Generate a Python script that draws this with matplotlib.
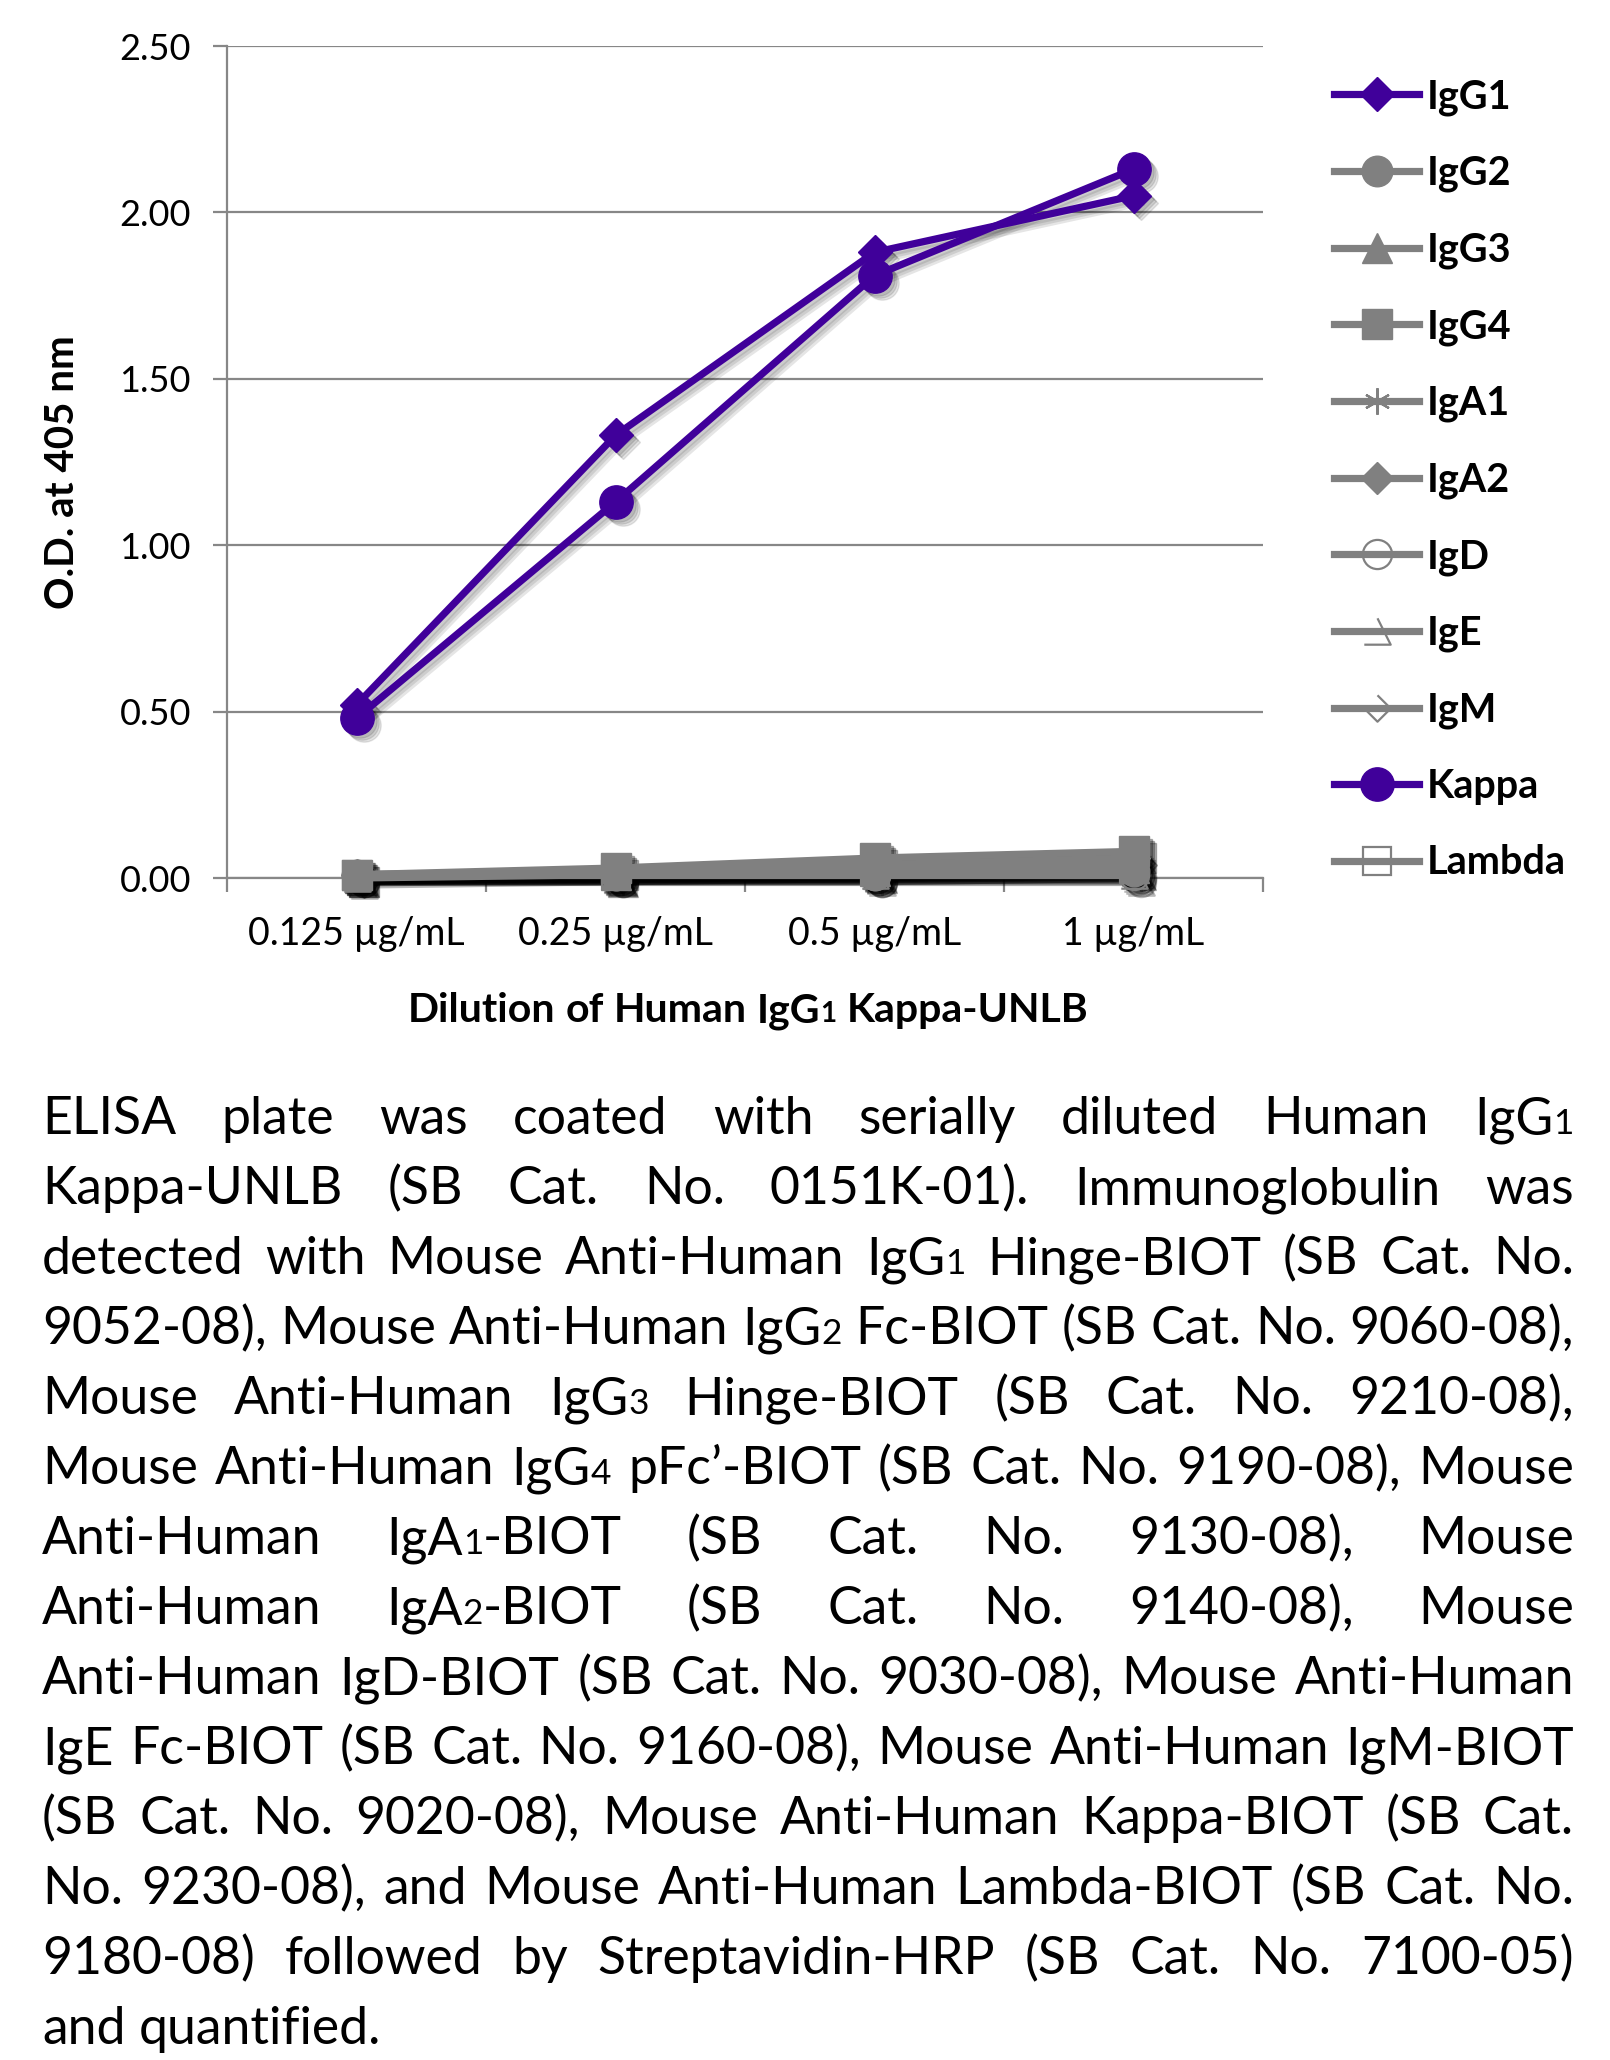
"""
ELISA isotype check - Human IgG1 Kappa-UNLB dilution series.
Line chart with soft drop shadows plus justified caption underneath.
"""

import numpy as np
import matplotlib
matplotlib.use('Agg')
import matplotlib.pyplot as plt
from matplotlib import transforms
from matplotlib.path import Path

plt.rcParams['font.family'] = ['Lato', 'DejaVu Sans']

# ---- data ---------------------------------------------------------------
concentrations = ['0.125 µg/mL', '0.25 µg/mL', '0.5 µg/mL', '1 µg/mL']
y_ticks = [0.0, 0.5, 1.0, 1.5, 2.0, 2.5]

series_names = ['IgG1', 'IgG2', 'IgG3', 'IgG4', 'IgA1', 'IgA2',
                'IgD', 'IgE', 'IgM', 'Kappa', 'Lambda']

igg1 = [0.52, 1.33, 1.88, 2.05]
igg2 = [0.01, 0.01, 0.01, 0.02]
igg3 = [0.01, 0.01, 0.02, 0.03]
igg4 = [0.01, 0.03, 0.06, 0.08]
iga1 = [0.01, 0.01, 0.01, 0.02]
iga2 = [0.01, 0.02, 0.04, 0.06]
igd = [0.01, 0.01, 0.01, 0.01]
ige = [0.00, 0.01, 0.01, 0.01]
igm = [0.01, 0.02, 0.03, 0.05]
kappa = [0.48, 1.13, 1.81, 2.13]
lambda_ = [0.01, 0.01, 0.02, 0.03]

series_values = [igg1, igg2, igg3, igg4, iga1, iga2,
                 igd, ige, igm, kappa, lambda_]

x_label = 'Dilution of Human IgG_1 Kappa-UNLB'   # '_' -> small digit
y_label = 'O.D. at 405 nm'

caption = [
    "ELISA plate was coated with serially diluted Human IgG_1",
    "Kappa-UNLB (SB Cat. No. 0151K-01).  Immunoglobulin was",
    "detected with Mouse Anti-Human IgG_1 Hinge-BIOT (SB Cat. No.",
    "9052-08), Mouse Anti-Human IgG_2 Fc-BIOT (SB Cat. No. 9060-08),",
    "Mouse Anti-Human IgG_3 Hinge-BIOT (SB Cat. No. 9210-08),",
    "Mouse Anti-Human IgG_4 pFc\u2019-BIOT (SB Cat. No. 9190-08), Mouse",
    "Anti-Human IgA_1-BIOT (SB Cat. No. 9130-08), Mouse",
    "Anti-Human IgA_2-BIOT (SB Cat. No. 9140-08), Mouse",
    "Anti-Human IgD-BIOT (SB Cat. No. 9030-08), Mouse Anti-Human",
    "IgE Fc-BIOT (SB Cat. No. 9160-08), Mouse Anti-Human IgM-BIOT",
    "(SB Cat. No. 9020-08), Mouse Anti-Human Kappa-BIOT (SB Cat.",
    "No. 9230-08), and Mouse Anti-Human Lambda-BIOT (SB Cat. No.",
    "9180-08) followed by Streptavidin-HRP (SB Cat. No. 7100-05)",
    "and quantified.",
]

# ---- styles ---------------------------------------------------------------
PURPLE = '#40009a'
GREY = '#808080'
AXIS_GREY = '#878787'
LW = 5.2

ige_marker = Path([(-1, -1), (1, -1), (0, 1)])
igm_marker = Path([(0, 1), (1, 0), (0, -1), (-1, 0)])

styles = {
    'IgG1': dict(color=PURPLE, marker='D', ms=17),
    'IgG2': dict(color=GREY, marker='o', ms=22),
    'IgG3': dict(color=GREY, marker='^', ms=21),
    'IgG4': dict(color=GREY, marker='s', ms=22),
    'IgA1': dict(color=GREY, marker=(6, 2, 0), ms=19, mew=1.6),
    'IgA2': dict(color=GREY, marker='D', ms=16),
    'IgD': dict(color=GREY, marker='o', ms=21, mfc='none', mew=1.6),
    'IgE': dict(color=GREY, marker=ige_marker, ms=19, mfc='none', mew=1.6),
    'IgM': dict(color=GREY, marker=igm_marker, ms=19, mfc='none', mew=1.6),
    'Kappa': dict(color=PURPLE, marker='o', ms=24),
    'Lambda': dict(color=GREY, marker='s', ms=20, mfc='none', mew=1.6),
}

W, H = 1610, 2060
fig = plt.figure(figsize=(W / 100, H / 100), dpi=100)
ax = fig.add_axes([227 / W, 1 - 878 / H, 1036 / W, 832 / H])

x = np.arange(len(concentrations)) + 0.5
handles = []

for name, values in zip(series_names, series_values):
    st = styles[name]
    mfc = st.get('mfc', st['color'])
    mew = st.get('mew', 1)
    # soft drop shadow: a few offset translucent copies
    sh_alpha = 0.10 if st['color'] == PURPLE else 0.28
    for k in (3, 5, 7):
        off = transforms.ScaledTranslation(k / 100, -k / 100, fig.dpi_scale_trans)
        ax.plot(x, values, color='black', lw=LW, marker=st['marker'], ms=st['ms'],
                mfc='none' if mfc == 'none' else 'black', mec='black', mew=mew,
                alpha=sh_alpha, transform=ax.transData + off,
                clip_on=False, zorder=3)
    line, = ax.plot(x, values, color=st['color'], lw=LW, marker=st['marker'],
                    ms=st['ms'], mfc=mfc, mec=st['color'], mew=mew,
                    label=name, clip_on=False, zorder=4)
    handles.append(line)

ax.set_xlim(0, len(concentrations))
ax.set_ylim(y_ticks[0], y_ticks[-1])
ax.set_yticks(y_ticks)
ax.set_yticklabels([f'{v:.2f}' for v in y_ticks])
ax.yaxis.grid(True, color=AXIS_GREY, lw=1.6)
ax.set_axisbelow(True)

ax.set_xticks(np.arange(len(concentrations) + 1))
ax.set_xticklabels([])
ax.set_xticks(x, minor=True)
ax.set_xticklabels(concentrations, minor=True)
ax.tick_params(axis='x', which='major', length=10, width=1.6, color=AXIS_GREY)
ax.tick_params(axis='x', which='minor', length=0, pad=27, labelsize=27)
ax.tick_params(axis='y', length=10, width=1.6, color=AXIS_GREY, pad=16, labelsize=26)

for side in ('top', 'right'):
    ax.spines[side].set_visible(False)
for side in ('left', 'bottom'):
    ax.spines[side].set_color(AXIS_GREY)
    ax.spines[side].set_linewidth(1.6)

ax.legend(handles=handles, loc='upper left',
          bbox_to_anchor=(1334 / W, 1 - 78 / H), bbox_transform=fig.transFigure,
          frameon=False, prop={'weight': 'bold', 'size': 28.5},
          handlelength=2.15, handletextpad=0.2, labelspacing=0.99,
          borderpad=0, borderaxespad=0, markerscale=1.0, numpoints=1)

fig.text(62 / W, 1 - 472 / H, y_label, rotation=90, ha='center', va='center',
         fontsize=29, fontweight='bold')

# ---- text with small subscript digits, drawn run by run -------------------
renderer = fig.canvas.get_renderer()
SMALL = 0.68


def measure(s, size, weight='normal'):
    t = fig.text(0, 0, s, fontsize=size, fontweight=weight)
    w = t.get_window_extent(renderer=renderer).width
    t.remove()
    return w


def split_runs(word):
    parts = word.split('_')
    runs = [(parts[0], False)] if parts[0] else []
    for p in parts[1:]:
        runs.append((p[0], True))
        if p[1:]:
            runs.append((p[1:], False))
    return runs


def word_width(word, size, weight='normal'):
    return sum(measure(s, size * (SMALL if small else 1), weight)
               for s, small in split_runs(word))


def draw_word(xpos, ypos, word, size, weight='normal'):
    for s, small in split_runs(word):
        fs = size * (SMALL if small else 1)
        fig.text(xpos / W, 1 - ypos / H, s, fontsize=fs, fontweight=weight,
                 ha='left', va='baseline')
        xpos += measure(s, fs, weight)
    return xpos


# x axis title, centred under the plot
xl_size = 29.5
xl_words = x_label.split()
xl_space = measure('a a', xl_size, 'bold') - measure('aa', xl_size, 'bold')
xl_total = sum(word_width(w, xl_size, 'bold') for w in xl_words) + xl_space * (len(xl_words) - 1)
xpos = 748 - xl_total / 2
for w in xl_words:
    xpos = draw_word(xpos, 1022, w, xl_size, 'bold') + xl_space

# justified caption
LEFT, RIGHT = 42, 1574
TEXT_W = RIGHT - LEFT
para_size = 38
space = measure('a a', para_size) - measure('aa', para_size)
natural = []
for line in caption[:-1]:
    words = line.split()
    natural.append(sum(word_width(w, para_size) for w in words) + space * (len(words) - 1))
para_size *= min(1.0, TEXT_W / max(natural))
space = measure('a a', para_size) - measure('aa', para_size)

baseline = 1134
for i, line in enumerate(caption):
    words = line.split()
    widths = [word_width(w, para_size) for w in words]
    if i < len(caption) - 1:
        gap = (TEXT_W - sum(widths)) / (len(words) - 1)
    else:
        gap = space
    xpos = LEFT
    for w, ww in zip(words, widths):
        draw_word(xpos, baseline, w, para_size)
        xpos += ww + gap
    baseline += 70

fig.savefig('out.png', dpi=100)
